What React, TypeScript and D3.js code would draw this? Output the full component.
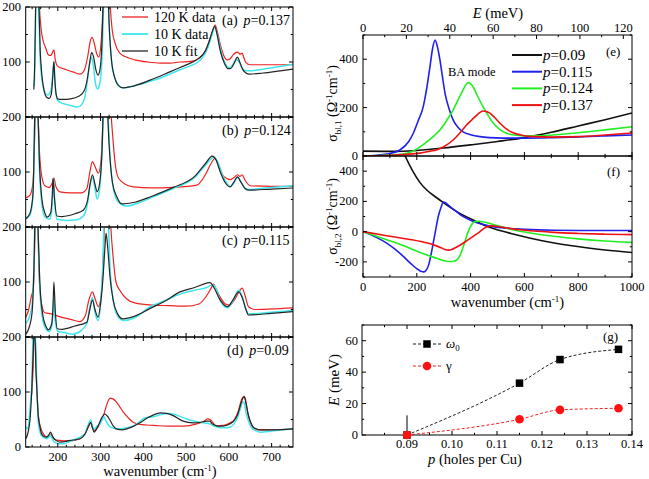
import React from 'react';
import * as d3 from 'd3';

type P = [number, number];

// ---------- Left panels: wavenumber (cm-1) vs sigma ----------
const leftXDomain: [number, number] = [125, 750];
const leftYDomain: [number, number] = [0, 200];
const leftXTicks = [200, 300, 400, 500, 600, 700];
const leftYTicks = [0, 100, 200];

// (a) p = 0.137
const a120: P[] = [[152,300],[157,200],[161,160],[166,138],[172,125],[178,113],[184,112],[188,118],[191,122],[194,105],[199,93],[208,89],[220,86],[235,82],[252,78],[262,85],[270,110],[276,138],[280,145],[285,135],[291,115],[296,109],[300,125],[304,170],[308,260],[312,320],[318,280],[322,210],[327,160],[334,134],[345,116],[360,109],[380,104],[410,100],[440,98],[462,98],[486,100],[510,101],[525,104],[540,114],[550,128],[560,152],[568,167],[574,152],[580,132],[588,112],[596,104],[603,106],[610,113],[616,117],[621,118],[626,114],[631,116],[635,108],[640,99],[650,95],[700,95],[750,95]];
const a10: P[] = [[145,55],[147,110],[149,220],[152,320],[155,230],[158,120],[162,75],[166,55],[170,45],[176,40],[182,44],[186,58],[189,85],[191,100],[193,70],[196,42],[200,30],[207,26],[220,23],[235,20],[245,18],[255,22],[263,35],[270,70],[275,100],[279,108],[283,95],[288,62],[293,51],[298,60],[303,100],[307,200],[311,320],[316,260],[320,170],[326,100],[333,72],[342,58],[352,53],[370,55],[390,59],[416,65],[440,71],[462,78],[486,86],[510,93],[528,100],[540,110],[550,124],[560,148],[567,163],[573,150],[580,125],[588,103],[596,92],[602,89],[608,94],[614,101],[619,104],[624,100],[630,90],[638,84],[648,84],[680,87],[720,92],[750,96]];
const aFit: P[] = [[144,50],[146,95],[149,240],[152,320],[155,230],[159,120],[163,75],[168,48],[174,36],[180,34],[185,42],[188,70],[191,101],[193,70],[196,42],[200,33],[210,32],[230,33],[250,38],[262,48],[268,65],[274,95],[279,117],[284,108],[289,86],[294,76],[299,88],[303,130],[307,230],[311,320],[316,260],[320,170],[326,100],[333,72],[342,57],[352,53],[370,55],[416,67],[462,82],[486,90],[510,98],[530,107],[545,120],[555,140],[562,157],[567,165],[572,152],[580,120],[590,97],[598,88],[604,88],[610,94],[616,104],[620,109],[625,101],[632,87],[640,80],[648,78],[680,80],[720,84],[750,87]];

// (b) p = 0.124
const b120: P[] = [[125,53],[135,58],[142,80],[147,200],[150,320],[154,200],[157,140],[163,90],[170,75],[180,72],[186,78],[191,89],[195,75],[205,64],[230,62],[255,62],[268,70],[275,100],[281,119],[287,110],[295,98],[301,120],[306,200],[312,320],[318,260],[325,200],[330,150],[335,110],[340,92],[350,82],[377,73],[420,71],[470,72],[525,76],[545,95],[558,115],[568,125],[575,115],[585,95],[596,88],[603,86],[612,90],[620,95],[626,92],[631,95],[638,85],[650,75],[700,74],[750,74]];
const b10: P[] = [[125,15],[135,22],[142,55],[146,190],[149,330],[153,230],[157,110],[163,40],[170,18],[180,14],[185,25],[188,60],[190,88],[193,45],[198,14],[220,12],[245,13],[260,20],[270,45],[276,78],[281,91],[287,70],[292,51],[298,70],[304,150],[310,320],[315,250],[322,130],[330,70],[342,45],[360,38],[390,44],[420,54],[470,70],[520,90],[545,112],[565,127],[574,118],[585,95],[595,80],[603,73],[612,80],[621,91],[628,82],[638,70],[646,68],[700,72],[750,75]];
const bFit: P[] = [[125,15],[135,25],[142,60],[146,200],[149,330],[153,230],[157,120],[163,50],[170,25],[175,18],[183,25],[187,55],[189,89],[192,55],[198,20],[210,19],[240,24],[260,31],[270,50],[276,80],[281,95],[287,78],[292,64],[298,80],[304,150],[309,300],[314,250],[320,150],[328,80],[338,55],[350,42],[380,45],[420,56],[470,72],[520,92],[545,115],[561,129],[570,122],[580,100],[592,80],[603,73],[612,82],[620,91],[628,82],[638,70],[646,67],[700,69],[750,71]];

// (c) p = 0.115
const c120: P[] = [[125,35],[132,50],[138,73],[143,90],[147,200],[150,320],[153,230],[156,120],[162,60],[170,44],[185,42],[200,38],[230,32],[252,28],[265,40],[272,65],[281,82],[287,70],[295,55],[302,80],[308,180],[313,320],[318,300],[324,200],[330,140],[336,100],[345,85],[360,70],[380,62],[420,58],[460,57],[500,56],[530,60],[548,75],[558,88],[564,96],[570,88],[580,72],[592,60],[602,58],[612,66],[622,80],[631,89],[638,75],[646,55],[660,50],[700,51],[750,53]];
const c10: P[] = [[125,25],[130,30],[135,40],[140,60],[145,150],[149,330],[153,220],[158,90],[165,30],[172,15],[180,10],[186,20],[189,45],[191,70],[194,30],[200,10],[215,8],[235,5],[255,12],[268,25],[275,55],[281,72],[287,45],[294,30],[300,60],[306,150],[311,320],[317,240],[322,130],[330,65],[340,38],[354,30],[380,35],[416,55],[450,66],[486,78],[520,85],[548,90],[562,95],[570,88],[580,66],[597,53],[610,66],[623,85],[632,72],[640,50],[646,42],[700,45],[750,48]];
const cFit: P[] = [[125,5],[132,15],[140,45],[145,150],[149,320],[153,220],[158,100],[165,40],[172,20],[178,13],[186,25],[189,60],[191,100],[194,50],[199,15],[210,14],[240,20],[268,27],[275,50],[281,67],[287,50],[294,36],[300,60],[306,110],[310,160],[313,189],[317,160],[322,110],[330,65],[340,42],[352,33],[380,38],[416,52],[450,65],[486,82],[520,90],[548,98],[556,99],[565,90],[580,67],[597,55],[610,68],[623,82],[632,70],[640,50],[646,40],[700,43],[750,46]];

// (d) p = 0.09
const d120: P[] = [[139,95],[141,120],[143,160],[145,210],[147,210],[149,150],[152,90],[155,55],[160,35],[168,22],[174,18],[179,20],[183,22],[187,18],[195,13],[203,12],[226,11],[252,15],[264,24],[272,38],[277,44],[281,35],[286,30],[294,36],[300,45],[306,55],[311,68],[315,78],[319,86],[323,89],[328,88],[337,82],[345,73],[353,64],[364,54],[376,45],[392,41],[408,40],[430,39],[455,38],[493,38],[525,42],[540,46],[551,51],[556,50],[560,47],[566,41],[571,38],[580,39],[591,40],[603,44],[614,51],[622,65],[630,87],[636,92],[640,82],[643,67],[648,50],[653,40],[659,34],[665,31],[700,31],[750,33]];
const d10: P[] = [[125,36],[130,33],[134,60],[137,90],[139,109],[141,170],[142,210],[144,230],[147,210],[149,170],[152,90],[154,49],[158,28],[162,21],[166,18],[174,15],[179,18],[183,21],[186,17],[189,12],[195,8],[201,6],[213,6],[228,10],[244,15],[255,19],[264,24],[270,38],[277,49],[281,38],[285,33],[292,38],[299,42],[304,50],[308,55],[311,50],[315,44],[320,38],[324,36],[335,33],[345,33],[360,35],[376,38],[390,45],[399,51],[410,54],[423,55],[446,60],[460,61],[478,58],[495,53],[509,49],[525,46],[540,44],[550,43],[556,42],[566,38],[579,35],[590,35],[602,36],[612,42],[621,55],[627,70],[633,82],[636,80],[641,60],[647,45],[653,35],[663,30],[673,27],[700,29],[750,33]];
const dFit: P[] = [[125,15],[130,25],[135,49],[139,100],[141,140],[144,200],[146,215],[149,140],[152,90],[154,60],[158,38],[162,24],[168,19],[174,18],[179,22],[183,27],[186,23],[189,18],[196,12],[205,9],[229,12],[252,15],[264,24],[272,38],[277,45],[281,35],[285,27],[290,32],[294,38],[302,52],[310,60],[316,56],[322,49],[330,38],[337,33],[350,31],[361,33],[375,37],[392,44],[410,53],[423,58],[440,62],[455,61],[470,57],[493,47],[516,44],[535,45],[548,47],[556,47],[560,43],[570,39],[579,38],[592,39],[602,42],[612,48],[621,60],[628,78],[633,89],[636,91],[640,80],[645,60],[651,45],[657,36],[665,33],[673,31],[700,31],[750,33]];

const leftPanels = [
  { letter: '(a)', p: '0.137', r: a120, c: a10, k: aFit },
  { letter: '(b)', p: '0.124', r: b120, c: b10, k: bFit },
  { letter: '(c)', p: '0.115', r: c120, c: c10, k: cFit },
  { letter: '(d)', p: '0.09', r: d120, c: d10, k: dFit },
];
const leftLegend = ['120 K data', '10 K data', '10 K fit'];

// ---------- Right panels ----------
const rightXDomain: [number, number] = [0, 1000];
const eYDomain: [number, number] = [0, 500];
const fYDomain: [number, number] = [-300, 500];
const meVDomain: [number, number] = [0, 124];
const dopingLabels = ['0.09', '0.115', '0.124', '0.137'];

const eBlack: P[] = [[0,20],[100,19],[200,23],[300,33],[400,46],[500,60],[600,76],[700,98],[800,124],[900,150],[1000,178]];
const eBlue: P[] = [[0,0],[50,3],[88,8],[137,25],[170,60],[187,94],[205,145],[224,204],[237,280],[249,369],[258,440],[268,479],[277,450],[286,397],[295,330],[305,259],[320,195],[335,149],[352,120],[372,100],[400,88],[435,80],[470,76],[520,74],[600,74],[706,76],[800,79],[900,83],[1000,87]];
const eGreen: P[] = [[0,0],[80,3],[149,8],[185,20],[212,38],[250,70],[286,107],[310,145],[335,190],[355,235],[372,273],[383,295],[391,303],[400,298],[409,286],[425,250],[446,204],[465,168],[484,136],[508,110],[533,94],[570,86],[608,83],[650,83],[706,87],[800,96],[900,108],[1000,121]];
const eRed: P[] = [[0,0],[100,3],[212,12],[250,20],[273,25],[300,38],[335,66],[360,95],[385,128],[405,150],[423,169],[435,180],[446,186],[458,184],[472,177],[490,158],[509,136],[530,114],[558,96],[590,86],[632,80],[706,78],[800,80],[900,87],[1000,95]];

const fBlack: P[] = [[140,600],[150,530],[162,480],[185,400],[212,324],[240,270],[274,224],[300,190],[335,147],[365,115],[398,87],[430,60],[460,36],[490,18],[520,2],[550,-12],[584,-27],[640,-50],[706,-73],[770,-92],[830,-107],[900,-122],[1000,-138]];
const fBlue: P[] = [[0,0],[50,-38],[88,-76],[120,-118],[150,-164],[180,-215],[200,-245],[215,-262],[227,-266],[237,-250],[245,-215],[253,-150],[261,-76],[270,10],[280,102],[290,160],[299,196],[308,190],[317,175],[340,143],[361,113],[390,83],[423,58],[470,38],[522,24],[600,15],[708,9],[850,7],[1000,7]];
const fGreen: P[] = [[0,0],[88,-53],[150,-92],[187,-120],[230,-150],[274,-176],[305,-194],[323,-198],[338,-196],[350,-185],[360,-160],[370,-115],[380,-60],[390,-5],[400,35],[410,60],[420,68],[432,69],[450,64],[484,47],[520,30],[584,2],[650,-17],[708,-31],[800,-48],[900,-62],[1000,-71]];
const fRed: P[] = [[0,0],[88,-27],[150,-45],[212,-64],[260,-86],[290,-106],[305,-118],[318,-122],[330,-118],[345,-105],[365,-85],[390,-55],[415,-25],[435,0],[450,22],[465,35],[480,38],[500,34],[530,26],[584,12],[650,2],[708,-5],[800,-12],[900,-17],[1000,-20]];

// ---------- Panel (g) ----------
const gXDomain: [number, number] = [0.08, 0.14];
const gYDomain: [number, number] = [0, 70];
const pDoping = [0.09, 0.115, 0.124, 0.137];
const omega0 = [0, 33, 48, 54.5];
const gammaW = [0, 10, 16, 17];
const omega0ErrTop = 12.5;

// ---------- layout / style ----------
const FONT_CANDIDATES = ['Liberation Serif', 'Times New Roman', 'Tinos', 'Times', 'Nimbus Roman', 'Nimbus Roman No9 L', 'FreeSerif', 'Noto Serif', 'DejaVu Serif'];

function detectFont(): { family: string; scale: number } {
  try {
    const ctx = document.createElement('canvas').getContext('2d');
    if (!ctx) return { family: 'serif', scale: 1 };
    const s = 'wavenumber holes per Cu 0123456789 mode';
    ctx.font = '50px monospace';
    const base = ctx.measureText(s).width;
    for (const f of FONT_CANDIDATES) {
      ctx.font = `50px "${f}", monospace`;
      const w = ctx.measureText(s).width;
      if (Math.abs(w - base) > 1) {
        ctx.font = `50px "${f}", monospace`;
        const wd = ctx.measureText('0123456789').width; // Times digits: 0.5em each
        const sc = Math.max(0.8, Math.min(1, 250 / wd));
        return { family: `"${f}", serif`, scale: sc };
      }
    }
  } catch (e) { /* ignore */ }
  return { family: 'serif', scale: 1 };
}

const RED = '#ee2222';
const CYAN = '#3ee6ee';
const DARK = '#262626';
const LINE_COLORS = ['#111111', '#2020ee', '#22ee22', '#ee1111'];

const LX0 = 25.7, LX1 = 293, PH = 110;
const leftTops = [7, 117, 227, 337];
const RX0 = 363, RX1 = 632;
const E_TOP = 35, E_BOT = 156, F_BOT = 277;
const G_TOP = 325, G_BOT = 435, GX0 = 362, GX1 = 632;

function ticks(
  key: string, x0: number, x1: number, yTop: number, yBot: number,
  xs: (v: number) => number, ys: (v: number) => number,
  xMaj: number[], xMin: number[], yMaj: number[], yMin: number[],
  sides = { t: true, b: true, l: true, r: true }
) {
  const els: React.ReactNode[] = [];
  const M = 4, m = 2.2;
  const addX = (v: number, len: number, i: string) => {
    const px = xs(v);
    if (sides.b) els.push(<line key={`${key}xb${i}${v}`} x1={px} x2={px} y1={yBot} y2={yBot - len} />);
    if (sides.t) els.push(<line key={`${key}xt${i}${v}`} x1={px} x2={px} y1={yTop} y2={yTop + len} />);
  };
  const addY = (v: number, len: number, i: string) => {
    const py = ys(v);
    if (sides.l) els.push(<line key={`${key}yl${i}${v}`} x1={x0} x2={x0 + len} y1={py} y2={py} />);
    if (sides.r) els.push(<line key={`${key}yr${i}${v}`} x1={x1} x2={x1 - len} y1={py} y2={py} />);
  };
  xMaj.forEach(v => addX(v, M, 'M'));
  xMin.forEach(v => addX(v, m, 'm'));
  yMaj.forEach(v => addY(v, M, 'M'));
  yMin.forEach(v => addY(v, m, 'm'));
  return <g stroke="#000" strokeWidth={1}>{els}</g>;
}

function minors(lo: number, hi: number, step: number, majors: number[]) {
  const out: number[] = [];
  for (let v = lo; v <= hi + 1e-9; v += step) {
    const r = Math.round(v * 10000) / 10000;
    if (!majors.some(mj => Math.abs(mj - r) < 1e-6)) out.push(r);
  }
  return out;
}

function LeftPanel({ idx, fs }: { idx: number; fs: (n: number) => number }) {
  const pn = leftPanels[idx];
  const top = leftTops[idx];
  const x = d3.scaleLinear().domain(leftXDomain).range([LX0, LX1]);
  const y = d3.scaleLinear().domain(leftYDomain).range([top + PH, top]);
  const line = d3.line<P>().x(d => x(d[0])).y(d => y(d[1])).curve(d3.curveMonotoneX);
  const clipId = `clipL${idx}`;
  const xMin = minors(140, 740, 20, leftXTicks);
  return (
    <g>
      <defs>
        <clipPath id={clipId}><rect x={LX0} y={top} width={LX1 - LX0} height={PH} /></clipPath>
      </defs>
      <g clipPath={`url(#${clipId})`} fill="none" strokeWidth={1.2}>
        <path d={line(pn.r) || ''} stroke={RED} />
        <path d={line(pn.c) || ''} stroke={CYAN} strokeWidth={1.5} />
        <path d={line(pn.k) || ''} stroke={DARK} />
      </g>
      <rect x={LX0} y={top} width={LX1 - LX0} height={PH} fill="none" stroke="#000" strokeWidth={1} />
      {ticks(`L${idx}`, LX0, LX1, top, top + PH, x, y, leftXTicks, xMin, leftYTicks, [50, 150])}
      {leftYTicks.filter(v => v > 0 || idx === 3).map(v => (
        <text key={v} x={21} y={y(v) + 4} textAnchor="end" fontSize={fs(12.5)}>{v}</text>
      ))}
      <text x={idx === 3 ? 227 : 222} y={top + 18} fontSize={fs(14)}>
        {pn.letter}<tspan dx={6} fontStyle="italic">p</tspan>={pn.p}
      </text>
      {idx === 0 && leftLegend.map((t, i) => (
        <g key={t}>
          <line x1={122} x2={148} y1={17 + 17 * i} y2={17 + 17 * i} stroke={[RED, CYAN, DARK][i]} strokeWidth={i === 1 ? 1.8 : 1.3} />
          <text x={154} y={21.5 + 17 * i} fontSize={fs(14)}>{t}</text>
        </g>
      ))}
      {idx === 3 && leftXTicks.map(v => (
        <text key={v} x={x(v)} y={top + PH + 14} textAnchor="middle" fontSize={fs(12.5)}>{v}</text>
      ))}
    </g>
  );
}

function SigmaLabel({ cx, cy, sub, fs }: { cx: number; cy: number; sub: string; fs: (n: number) => number }) {
  return (
    <text transform={`translate(${cx},${cy}) rotate(-90)`} textAnchor="middle" fontSize={fs(14)}>
      σ<tspan dy={4} fontSize={fs(9)}>{sub}</tspan><tspan dy={-4}> (Ω</tspan><tspan dy={-5} fontSize={fs(9)}>-1</tspan><tspan dy={5}>cm</tspan><tspan dy={-5} fontSize={fs(9)}>-1</tspan><tspan dy={5}>)</tspan>
    </text>
  );
}

function RightEF({ fs }: { fs: (n: number) => number }) {
  const x = d3.scaleLinear().domain(rightXDomain).range([RX0, RX1]);
  const xE = d3.scaleLinear().domain(meVDomain).range([RX0, RX1]);
  const ye = d3.scaleLinear().domain(eYDomain).range([E_BOT, E_TOP]);
  const yf = d3.scaleLinear().domain(fYDomain).range([F_BOT, E_BOT]);
  const le = d3.line<P>().x(d => x(d[0])).y(d => ye(d[1])).curve(d3.curveMonotoneX);
  const lf = d3.line<P>().x(d => x(d[0])).y(d => yf(d[1])).curve(d3.curveMonotoneX);
  const xMaj = [0, 200, 400, 600, 800, 1000];
  const xMin = [100, 300, 500, 700, 900];
  const eMaj = [0, 200, 400];
  const eMin = [100, 300, 500];
  const fMaj = [-200, 0, 200, 400];
  const fMin = [-300, -100, 100, 300];
  const EMaj = [0, 20, 40, 60, 80, 100, 120];
  const EMin = [10, 30, 50, 70, 90, 110];
  const eSeries = [eBlack, eBlue, eGreen, eRed];
  const fSeries = [fBlack, fBlue, fGreen, fRed];
  return (
    <g>
      <defs>
        <clipPath id="clipE"><rect x={RX0} y={E_TOP} width={RX1 - RX0} height={E_BOT - E_TOP} /></clipPath>
        <clipPath id="clipF"><rect x={RX0} y={E_BOT} width={RX1 - RX0} height={F_BOT - E_BOT} /></clipPath>
      </defs>
      <g clipPath="url(#clipE)" fill="none" strokeWidth={1.6}>
        {eSeries.map((s, i) => <path key={i} d={le(s) || ''} stroke={LINE_COLORS[i]} />)}
      </g>
      <g clipPath="url(#clipF)" fill="none" strokeWidth={1.6}>
        {fSeries.map((s, i) => <path key={i} d={lf(s) || ''} stroke={LINE_COLORS[i]} />)}
      </g>
      <rect x={RX0} y={E_TOP} width={RX1 - RX0} height={E_BOT - E_TOP} fill="none" stroke="#000" />
      <rect x={RX0} y={E_BOT} width={RX1 - RX0} height={F_BOT - E_BOT} fill="none" stroke="#000" />
      {ticks('e', RX0, RX1, E_TOP, E_BOT, x, ye, xMaj, xMin, eMaj, eMin, { t: false, b: true, l: true, r: true })}
      {ticks('eT', RX0, RX1, E_TOP, E_BOT, xE, ye, EMaj, EMin, [], [], { t: true, b: false, l: false, r: false })}
      {ticks('f', RX0, RX1, E_BOT, F_BOT, x, yf, xMaj, xMin, fMaj, fMin)}
      {EMaj.map(v => <text key={`E${v}`} x={xE(v)} y={E_TOP - 3} textAnchor="middle" fontSize={fs(12.5)}>{v}</text>)}
      <text x={498} y={18} textAnchor="middle" fontSize={fs(14.5)}><tspan fontStyle="italic">E</tspan> (meV)</text>
      {eMaj.map(v => <text key={`ey${v}`} x={358} y={ye(v) + 4} textAnchor="end" fontSize={fs(12.5)}>{v}</text>)}
      {fMaj.map(v => <text key={`fy${v}`} x={358} y={yf(v) + 4} textAnchor="end" fontSize={fs(12.5)}>{v}</text>)}
      {xMaj.map(v => <text key={`fx${v}`} x={x(v)} y={F_BOT + 14} textAnchor="middle" fontSize={fs(12.5)}>{v}</text>)}
      <text x={(RX0 + RX1) / 2 + 10} y={307} textAnchor="middle" fontSize={fs(14.5)}>
        wavenumber (cm<tspan dy={-5} fontSize={fs(9)}>-1</tspan><tspan dy={5}>)</tspan>
      </text>
      <SigmaLabel cx={337} cy={(E_TOP + E_BOT) / 2 + 8} sub="bl,1" fs={fs} />
      <SigmaLabel cx={337} cy={(E_BOT + F_BOT) / 2} sub="bl,2" fs={fs} />
      {dopingLabels.map((p, i) => (
        <g key={p}>
          <line x1={512} x2={542} y1={55 + 16.7 * i} y2={55 + 16.7 * i} stroke={LINE_COLORS[i]} strokeWidth={2} />
          <text x={543} y={60 + 16.7 * i} fontSize={fs(15)}><tspan fontStyle="italic">p</tspan>=<tspan>{p}</tspan></text>
        </g>
      ))}
      <text x={448} y={76} fontSize={fs(12.5)}>BA mode</text>
      <text x={606} y={56} fontSize={fs(13)}>(e)</text>
      <text x={607} y={176} fontSize={fs(13)}>(f)</text>
    </g>
  );
}

function PanelG({ fs }: { fs: (n: number) => number }) {
  const x = d3.scaleLinear().domain(gXDomain).range([GX0, GX1]);
  const y = d3.scaleLinear().domain(gYDomain).range([G_BOT, G_TOP]);
  const line = d3.line<[number, number]>().x(d => x(d[0])).y(d => y(d[1])).curve(d3.curveMonotoneX);
  const wPts = pDoping.map((p, i) => [p, omega0[i]] as [number, number]);
  const gPts = pDoping.map((p, i) => [p, gammaW[i]] as [number, number]);
  const xMaj = [0.09, 0.10, 0.11, 0.12, 0.13, 0.14];
  const xMin = [0.085, 0.095, 0.105, 0.115, 0.125, 0.135];
  const yMaj = [0, 20, 40, 60];
  const yMin = [10, 30, 50, 70];
  const sq = 7.5;
  return (
    <g>
      <rect x={GX0} y={G_TOP} width={GX1 - GX0} height={G_BOT - G_TOP} fill="none" stroke="#000" />
      {ticks('g', GX0, GX1, G_TOP, G_BOT, x, y, xMaj, xMin, yMaj, yMin)}
      <path d={line(wPts) || ''} fill="none" stroke="#222" strokeWidth={1} strokeDasharray="3,2" />
      <path d={line(gPts) || ''} fill="none" stroke={RED} strokeWidth={1} strokeDasharray="3,2" />
      <line x1={x(pDoping[0])} x2={x(pDoping[0])} y1={y(0)} y2={y(omega0ErrTop)} stroke="#000" strokeWidth={1} />
      {wPts.map((d, i) => <rect key={`w${i}`} x={x(d[0]) - sq / 2} y={y(d[1]) - sq / 2} width={sq} height={sq} fill="#000" />)}
      {gPts.map((d, i) => <circle key={`g${i}`} cx={x(d[0])} cy={y(d[1])} r={4.3} fill="#ff1111" />)}
      {xMaj.map(v => <text key={`gx${v}`} x={x(v)} y={G_BOT + 13} textAnchor="middle" fontSize={fs(12.5)}>{v.toFixed(2)}</text>)}
      {yMaj.map(v => <text key={`gy${v}`} x={358} y={y(v) + 4} textAnchor="end" fontSize={fs(12.5)}>{v}</text>)}
      <text x={475} y={464} textAnchor="middle" fontSize={fs(14.5)}><tspan fontStyle="italic">p</tspan> (holes per Cu)</text>
      <text transform={`translate(339,${(G_TOP + G_BOT) / 2}) rotate(-90)`} textAnchor="middle" fontSize={fs(15)}>
        <tspan fontStyle="italic">E</tspan> (meV)
      </text>
      <line x1={413} x2={441} y1={344} y2={344} stroke="#222" strokeDasharray="3,2" />
      <rect x={427 - sq / 2} y={344 - sq / 2} width={sq} height={sq} fill="#000" />
      <text x={446} y={348} fontSize={fs(13)}><tspan fontStyle="italic">ω</tspan><tspan dy={3} fontSize={fs(9)}>0</tspan></text>
      <line x1={413} x2={441} y1={366} y2={366} stroke={RED} strokeDasharray="3,2" />
      <circle cx={427} cy={366} r={4.3} fill="#ff1111" />
      <text x={446} y={370} fontSize={fs(13)}>γ</text>
      <text x={603} y={341} fontSize={fs(13)}>(g)</text>
    </g>
  );
}

export default function App() {
  const font = React.useMemo(detectFont, []);
  const fs = (n: number) => Math.round(n * font.scale * 10) / 10;
  return (
    <svg width={649} height={479} style={{ position: 'absolute', left: 0, top: 0, background: '#fff', fontFamily: font.family }}>
      <style>{`text { font-family: ${font.family}; fill: #000; }`}</style>
      <rect x={0} y={0} width={649} height={479} fill="#fff" />
      {leftPanels.map((_, i) => <LeftPanel key={i} idx={i} fs={fs} />)}
      <text x={160} y={476} textAnchor="middle" fontSize={fs(14.5)}>
        wavenumber (cm<tspan dy={-5} fontSize={fs(9)}>-1</tspan><tspan dy={5}>)</tspan>
      </text>
      <RightEF fs={fs} />
      <PanelG fs={fs} />
    </svg>
  );
}
